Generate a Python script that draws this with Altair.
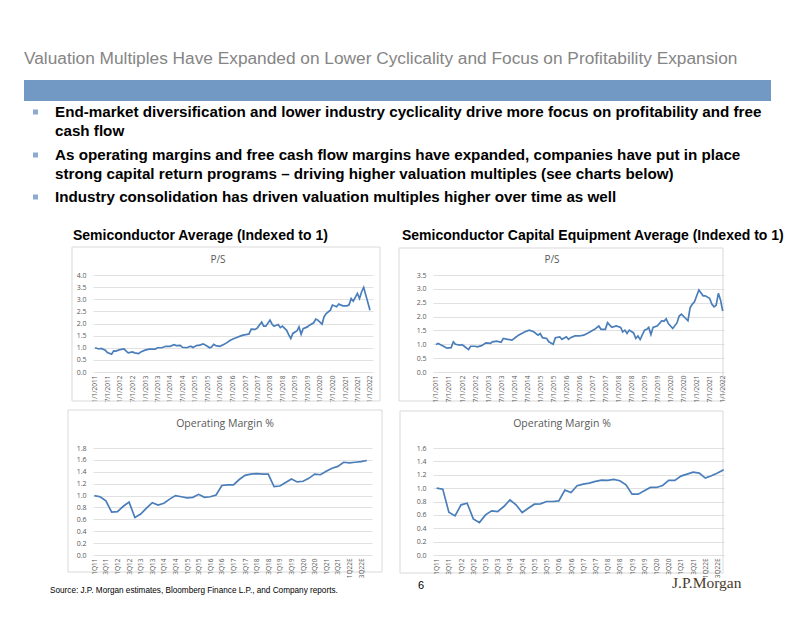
import altair as alt
import pandas as pd

# ---------------- data ----------------
ps_semi_dates = ["2011-01","2011-03","2011-04","2011-06","2011-07","2011-09","2011-10","2011-11",
                 "2012-01","2012-03","2012-04","2012-05","2012-07","2012-08","2012-10","2012-11",
                 "2013-01","2013-03","2013-06","2013-07","2013-09","2013-11",
                 "2014-01","2014-03","2014-04","2014-06","2014-07","2014-09","2014-11","2014-12",
                 "2015-02","2015-03","2015-05","2015-07","2015-08","2015-09","2015-10","2015-11",
                 "2016-01","2016-03","2016-04","2016-06","2016-07","2016-09","2016-11","2016-12",
                 "2017-02","2017-03","2017-04","2017-06","2017-07","2017-09","2017-10","2017-11",
                 "2018-01","2018-02","2018-03","2018-05","2018-06","2018-07","2018-09","2018-10","2018-11","2018-12",
                 "2019-02","2019-03","2019-04","2019-05","2019-07","2019-08","2019-10","2019-11","2019-12",
                 "2020-02","2020-03","2020-04","2020-06","2020-07","2020-09","2020-10","2020-12",
                 "2021-02","2021-03","2021-04","2021-05","2021-07","2021-08","2021-09","2021-10","2021-11",
                 "2022-01"]
ps_semi_vals = [1.00,0.95,0.97,0.90,0.80,0.73,0.87,0.86,
                0.92,0.95,0.86,0.79,0.83,0.79,0.76,0.83,
                0.90,0.94,0.94,1.00,1.00,1.06,
                1.06,1.13,1.09,1.10,1.02,1.00,1.06,1.01,
                1.10,1.10,1.16,1.06,1.00,1.03,1.14,1.09,
                1.06,1.14,1.19,1.31,1.35,1.42,1.49,1.52,
                1.55,1.57,1.77,1.76,1.82,2.06,1.89,1.89,
                2.14,1.97,1.89,1.96,1.83,1.89,1.72,1.54,1.38,1.59,
                1.70,1.86,1.56,1.79,1.86,1.93,2.03,2.18,2.14,
                1.97,2.28,2.41,2.55,2.76,2.69,2.80,2.73,
                2.73,2.77,3.03,2.92,3.24,3.03,3.31,3.49,3.17,
                2.55]

ps_cap_dates = ["2011-01","2011-02","2011-03","2011-05","2011-06","2011-08","2011-09","2011-10","2011-12",
                "2012-01","2012-02","2012-04","2012-05","2012-07","2012-08","2012-10","2012-12",
                "2013-02","2013-03","2013-05","2013-07","2013-08","2013-10","2013-12",
                "2014-02","2014-03","2014-05","2014-06","2014-08","2014-10","2014-12",
                "2015-01","2015-02","2015-04","2015-05","2015-07","2015-08","2015-10","2015-11",
                "2016-01","2016-02","2016-03","2016-05","2016-07","2016-09","2016-11","2016-12",
                "2017-02","2017-04","2017-05","2017-07","2017-08","2017-09","2017-10","2017-12",
                "2018-02","2018-03","2018-04","2018-05","2018-06","2018-08","2018-09","2018-10","2018-11",
                "2019-01","2019-02","2019-03","2019-04","2019-05","2019-07","2019-09","2019-10","2019-11","2019-12",
                "2020-02","2020-04","2020-05","2020-06","2020-08","2020-09","2020-10","2020-11","2020-12",
                "2021-02","2021-04","2021-05","2021-07","2021-08","2021-09","2021-10","2021-11","2021-12",
                "2022-01"]
ps_cap_vals = [0.99,1.03,0.99,0.91,0.86,0.88,1.09,1.00,0.97,
               0.99,0.93,0.81,0.93,0.93,0.91,0.95,1.05,
               1.03,1.09,1.11,1.07,1.21,1.18,1.15,
               1.27,1.33,1.41,1.45,1.51,1.45,1.33,
               1.39,1.24,1.21,1.09,1.00,1.24,1.27,1.18,
               1.27,1.18,1.24,1.30,1.30,1.33,1.41,1.45,
               1.54,1.66,1.54,1.54,1.78,1.69,1.61,1.66,
               1.61,1.45,1.51,1.39,1.51,1.41,1.21,1.30,1.17,
               1.51,1.54,1.61,1.35,1.61,1.67,1.85,1.83,1.92,1.75,
               1.57,1.78,2.02,2.09,1.93,1.85,2.32,2.45,2.53,
               2.96,2.75,2.75,2.66,2.45,2.35,2.41,2.84,2.60,
               2.20]

quarters = ["1Q11","2Q11","3Q11","4Q11","1Q12","2Q12","3Q12","4Q12",
            "1Q13","2Q13","3Q13","4Q13","1Q14","2Q14","3Q14","4Q14",
            "1Q15","2Q15","3Q15","4Q15","1Q16","2Q16","3Q16","4Q16",
            "1Q17","2Q17","3Q17","4Q17","1Q18","2Q18","3Q18","4Q18",
            "1Q19","2Q19","3Q19","4Q19","1Q20","2Q20","3Q20","4Q20",
            "1Q21","2Q21","3Q21","4Q21","1Q22E","2Q22E","3Q22E","4Q22E"]
om_semi = [1.00,0.98,0.91,0.72,0.73,0.82,0.89,0.63,
           0.69,0.79,0.88,0.84,0.87,0.94,1.00,0.98,
           0.96,0.97,1.02,0.97,0.98,1.01,1.17,1.18,
           1.18,1.27,1.34,1.36,1.37,1.36,1.36,1.15,
           1.16,1.22,1.28,1.23,1.24,1.29,1.36,1.35,
           1.41,1.46,1.49,1.56,1.55,1.56,1.57,1.59]
om_cap = [1.00,0.985,0.64,0.585,0.75,0.775,0.54,0.485,
          0.60,0.66,0.65,0.725,0.825,0.75,0.635,0.70,
          0.76,0.765,0.80,0.80,0.81,0.97,0.935,1.035,
          1.06,1.075,1.10,1.12,1.115,1.13,1.11,1.05,
          0.91,0.91,0.96,1.01,1.01,1.04,1.115,1.115,
          1.18,1.21,1.24,1.225,1.15,1.185,1.225,1.275]

ps_tick_dates = ["2011-01","2011-07","2012-01","2012-07","2013-01","2013-07","2014-01","2014-07",
                 "2015-01","2015-07","2016-01","2016-07","2017-01","2017-07","2018-01","2018-07",
                 "2019-01","2019-07","2020-01","2020-07","2021-01","2021-07","2022-01"]
om_tick_labels = ["1Q11","3Q11","1Q12","3Q12","1Q13","3Q13","1Q14","3Q14","1Q15","3Q15",
                  "1Q16","3Q16","1Q17","3Q17","1Q18","3Q18","1Q19","3Q19","1Q20","3Q20",
                  "1Q21","3Q21","1Q22E","3Q22E"]
ps_semi_yticks = [0.0,0.5,1.0,1.5,2.0,2.5,3.0,3.5,4.0]
ps_cap_yticks = [0.0,0.5,1.0,1.5,2.0,2.5,3.0,3.5]
om_semi_yticks = [0.0,0.2,0.4,0.6,0.8,1.0,1.2,1.4,1.6,1.8]
om_cap_yticks = [0.0,0.2,0.4,0.6,0.8,1.0,1.2,1.4,1.6]

slide_title = "Valuation Multiples Have Expanded on Lower Cyclicality and Focus on Profitability Expansion"
bullet_lines = [
    "End-market diversification and lower industry cyclicality drive more focus on profitability and free",
    "cash flow",
    "As operating margins and free cash flow margins have expanded, companies have put in place",
    "strong capital return programs \u2013 driving higher valuation multiples (see charts below)",
    "Industry consolidation has driven valuation multiples higher over time as well",
]
left_title = "Semiconductor Average (Indexed to 1)"
right_title = "Semiconductor Capital Equipment Average (Indexed to 1)"
ps_title = "P/S"
om_title = "Operating Margin %"
source_text = "Source: J.P. Morgan estimates, Bloomberg Finance L.P., and Company reports."
page_number = "6"
brand = "J.P.Morgan"

# ---------------- style ----------------
BLUE = "#4a7ebb"
GRID = "#d9d9d9"
LBL = "#595959"
CFONT = "Open Sans"
SANS = "Liberation Sans"


def to_dt(s):
    y, m = s.split("-")
    return alt.DateTime(year=int(y), month=int(m), date=1)


def ps_frame(dates, vals):
    return pd.DataFrame({"date": [d + "-01" for d in dates], "value": vals})


def om_frame(vals):
    return pd.DataFrame({"q": quarters, "value": vals})


def y_axis(ticks):
    return alt.Axis(values=ticks, format=".1f", grid=True, gridColor=GRID, gridWidth=0.8,
                    domain=False, ticks=False, labelFont=CFONT, labelFontSize=7,
                    labelColor=LBL, labelPadding=7, title=None)


def ps_line(dates, vals, ymax, yticks, dom):
    return alt.Chart(ps_frame(dates, vals)).mark_line(color=BLUE, strokeWidth=1.7).encode(
        x=alt.X("date:T", scale=alt.Scale(domain=dom),
                axis=alt.Axis(values=[to_dt(d) for d in ps_tick_dates], format="%-m/%-d/%Y",
                              labelAngle=270, grid=False, domain=False, ticks=False,
                              labelFont=CFONT, labelFontSize=6.5, labelColor=LBL,
                              labelPadding=3, labelOverlap=False, labelFlush=False,
                              labelBound=False, title=None)),
        y=alt.Y("value:Q", scale=alt.Scale(domain=[0, ymax], nice=False, zero=True), axis=y_axis(yticks)),
    )


def om_line(vals, ymax, yticks, pad, align):
    return alt.Chart(om_frame(vals)).mark_line(color=BLUE, strokeWidth=1.7).encode(
        x=alt.X("q:O", sort=quarters, scale=alt.Scale(type="point", padding=pad, align=align),
                axis=alt.Axis(values=om_tick_labels, labelAngle=270, grid=False, domain=False,
                              ticks=False, labelFont=CFONT, labelFontSize=6.5, labelColor=LBL,
                              labelPadding=3, labelOverlap=False, labelBound=False, title=None)),
        y=alt.Y("value:Q", scale=alt.Scale(domain=[0, ymax], nice=False, zero=True), axis=y_axis(yticks)),
    )


dummy = pd.DataFrame({"a": [0]})


def txt(text, x, y, size, color="#000000", font=SANS, weight="normal", align="left"):
    return alt.Chart(dummy).mark_text(text=text, font=font, fontSize=size, fontWeight=weight,
                                      color=color, align=align, baseline="middle").encode(
        x=alt.value(x), y=alt.value(y))


def box(x1, y1, x2, y2, fill=None, stroke=None, sw=1.0, fo=1.0):
    kw = dict(strokeWidth=sw)
    if fill is not None:
        kw["fill"] = fill
        kw["fillOpacity"] = fo
    else:
        kw["fillOpacity"] = 0
    if stroke is not None:
        kw["stroke"] = stroke
    return alt.Chart(dummy).mark_rect(**kw).encode(
        x=alt.value(x1), x2=alt.value(x2), y=alt.value(y1), y2=alt.value(y2))


# positions relative to the first panel's plot origin (page x=93, y=275)
deco = [
    box(-85, -267, -84, -266, fill="#ffffff", fo=0.0),             # layout anchor (page 8,8)
    txt(slide_title, -69, -216, 17.3, color="#858585"),
    box(-69, -195, 678, -174, fill="#7298c4"),
]
bullet_y = [-163, -144, -120, -101, -78]
first_line = [True, False, True, False, True]
for t, yy, first in zip(bullet_lines, bullet_y, first_line):
    deco.append(txt(t, -38, yy, 15.2, weight="bold"))
    if first:
        deco.append(box(-60, yy - 2.5, -55, yy + 2.5, fill="#8eaad0"))
deco += [
    txt(left_title, -20, -39, 14, weight="bold"),
    txt(right_title, 309, -39, 14, weight="bold"),
    box(-21, -28, 287, 126, stroke=GRID),
    box(-25, 135, 289, 297, stroke=GRID),
    box(306, -27, 630, 126, stroke=GRID),
    box(307, 136, 630, 298, stroke=GRID),
    txt(ps_title, 125, -15, 10, color=LBL, font=CFONT, align="center"),
    txt(ps_title, 459, -15, 10, color=LBL, font=CFONT, align="center"),
    txt(om_title, 132, 149, 10.5, color=LBL, font=CFONT, align="center"),
    txt(om_title, 469, 149, 10.5, color=LBL, font=CFONT, align="center"),
    txt(source_text, -43, 316, 8.2),
    txt(page_number, 325, 311, 11),
    txt(brand, 579, 308, 15.5, color="#4a3a2c", font="Liberation Serif, DejaVu Serif"),
]

left_ps = alt.layer(
    *deco,
    ps_line(ps_semi_dates, ps_semi_vals, 4.0, ps_semi_yticks,
            [alt.DateTime(year=2010, month=12, date=3), alt.DateTime(year=2022, month=2, date=14)]),
).properties(width=280, height=97)

right_ps = ps_line(ps_cap_dates, ps_cap_vals, 3.5, ps_cap_yticks,
                   [alt.DateTime(year=2010, month=11, date=20), alt.DateTime(year=2022, month=1, date=19)]
                   ).properties(width=291, height=97)

left_om = om_line(om_semi, 1.8, om_semi_yticks, 0.56, 0.2).properties(width=279, height=107)
right_om = om_line(om_cap, 1.6, om_cap_yticks, 0.325, 0.92).properties(width=291, height=107)

chart = alt.concat(
    left_ps, right_ps, left_om, right_om,
    columns=2, bounds="flush", align="all",
    spacing={"row": 66, "column": 49},
).properties(padding=0, background="#ffffff").configure_view(stroke=None)

chart.save("out.html", embed_options={"renderer": "svg", "actions": False})
